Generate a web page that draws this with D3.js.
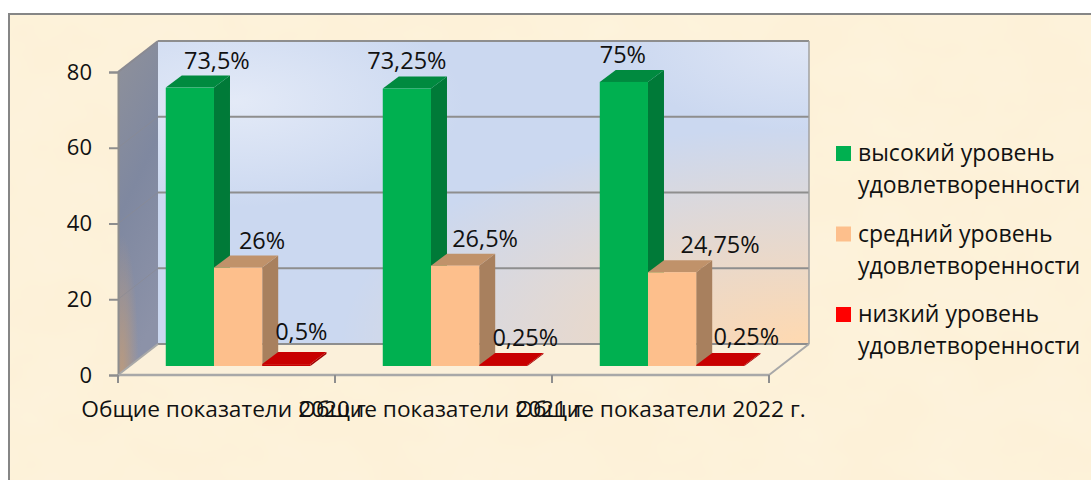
<!DOCTYPE html>
<html>
<head>
<meta charset="utf-8">
<script src="https://cdn.jsdelivr.net/npm/d3@7"></script>
<style>
  html, body { margin: 0; padding: 0; background: #fff; overflow: hidden; }
  svg { display: block; }
  text { font-family: "Open Sans", "Noto Sans", sans-serif; fill: #111; }
</style>
</head>
<body>
<script>
// values
var categories = ["Общие показатели 2020 г.", "Общие показатели 2021 г.", "Общие показатели 2022 г."];
var seriesNames = ["высокий", "средний", "низкий"];
var high = [73.5, 73.25, 75];
var mid = [26, 26.5, 24.75];
var low = [0.5, 0.25, 0.25];
var labelsHigh = ["73,5%", "73,25%", "75%"];
var labelsMid = ["26%", "26,5%", "24,75%"];
var labelsLow = ["0,5%", "0,25%", "0,25%"];
var yTicks = [0, 20, 40, 60, 80];
var legendLines = [
  ["высокий уровень", "удовлетворенности"],
  ["средний уровень", "удовлетворенности"],
  ["низкий уровень", "удовлетворенности"]
];

var width = 1091, height = 480;
var frontColors = ["#00b050", "#fdbf8c", "#c80000"];
var topColors = ["#008a3f", "#c0926a", "#c80000"];
var sideColors = ["#007a38", "#a8805e", "#a00000"];
var legendColors = ["#00b050", "#fdbf8c", "#ff0000"];

// data labels were dragged by hand in the original, per series then per category
var labelDx = [[27, 0, -1], [24, 30, 48], [15, 22, 26]];
var labelDy = [[-19, -20, -19], [-19, -19, -19], [-24, -19, -20]];

var svg = d3.select("body").append("svg")
    .attr("width", width)
    .attr("height", height);

var defs = svg.append("defs");

// parchment texture
var paper = defs.append("filter").attr("id", "paper")
    .attr("x", 0).attr("y", 0).attr("width", "100%").attr("height", "100%");
paper.append("feTurbulence").attr("type", "fractalNoise")
    .attr("baseFrequency", "0.012 0.018").attr("numOctaves", 3).attr("seed", 7);
paper.append("feColorMatrix").attr("type", "matrix")
    .attr("values", "0 0 0 0 0.98  0 0 0 0 0.92  0 0 0 0 0.76  0.7 0 0 0 -0.22");

function radial(id, cx, cy, r, color, op) {
  var g = defs.append("radialGradient").attr("id", id)
      .attr("cx", cx).attr("cy", cy).attr("r", r);
  g.append("stop").attr("offset", 0).attr("stop-color", color).attr("stop-opacity", op);
  g.append("stop").attr("offset", 1).attr("stop-color", color).attr("stop-opacity", 0);
}
radial("wallPeach", 1, 1, 0.72, "#ffd9b0", 1);
radial("wallLight1", 0.12, 0.2, 0.35, "#e6ecf8", 0.9);
radial("wallLight2", 1, 0, 0.3, "#e2e8f6", 0.9);
radial("sideBrown", 0.1, 1, 0.42, "#b89a80", 1);

var side = defs.append("linearGradient").attr("id", "side")
    .attr("x1", 0).attr("y1", 0).attr("x2", 0.25).attr("y2", 1);
side.append("stop").attr("offset", "0").attr("stop-color", "#8f919a");
side.append("stop").attr("offset", "0.5").attr("stop-color", "#7f88a0");
side.append("stop").attr("offset", "1").attr("stop-color", "#8c92a8");

svg.append("rect").attr("x", 9).attr("y", 14).attr("width", width - 9).attr("height", height - 14).attr("fill", "#fdf1d8");
svg.append("rect").attr("x", 9).attr("y", 14).attr("width", width - 9).attr("height", height - 14).attr("filter", "url(#paper)");

// frame only shows on the top and the left
svg.append("path")
    .attr("d", "M9," + height + "V14H" + width)
    .attr("fill", "none").attr("stroke", "#868686").attr("stroke-width", 2);

// front plane scales and the shift to the back wall
var x0 = d3.scaleBand().domain(categories).range([118, 769]);
var y = d3.scaleLinear().domain([0, 80]).range([375, 72]);
var depth = { x: 40, y: -31 };
var barDepth = { x: 16, y: -12 };
var barShift = { x: 11.6, y: -9 };
var x1 = d3.scaleBand().domain(seriesNames).range([0, x0.bandwidth()]).paddingOuter(0.75);

function poly(pts) { return pts.map(function(p) { return p.join(","); }).join(" "); }

var xL = x0.range()[0], xR = x0.range()[1];
var gridColor = "#8e8e8e";

// floor
svg.append("polygon")
    .attr("points", poly([[xL, y(0)], [xL + depth.x, y(0) + depth.y], [xR + depth.x, y(0) + depth.y], [xR, y(0)]]))
    .attr("fill", "#fbf0da");

// back wall, layered blue with a peach corner
var wallPts = poly([[xL + depth.x, y(80) + depth.y], [xR + depth.x, y(80) + depth.y], [xR + depth.x, y(0) + depth.y], [xL + depth.x, y(0) + depth.y]]);
["#cbd8f0", "url(#wallLight1)", "url(#wallLight2)", "url(#wallPeach)"].forEach(function(f) {
  svg.append("polygon").attr("points", wallPts).attr("fill", f);
});

// side wall
var sidePts = poly([[xL, y(80)], [xL + depth.x, y(80) + depth.y], [xL + depth.x, y(0) + depth.y], [xL, y(0)]]);
["url(#side)", "url(#sideBrown)"].forEach(function(f) {
  svg.append("polygon").attr("points", sidePts).attr("fill", f);
});

// gridlines on the wall, running on down the side wall
yTicks.forEach(function(t) {
  svg.append("line")
      .attr("x1", xL + depth.x).attr("x2", xR + depth.x)
      .attr("y1", y(t) + depth.y).attr("y2", y(t) + depth.y)
      .attr("stroke", gridColor).attr("stroke-width", 2);
  svg.append("line")
      .attr("x1", xL).attr("x2", xL + depth.x)
      .attr("y1", y(t)).attr("y2", y(t) + depth.y)
      .attr("stroke", t === 0 ? "#a8a8a8" : "#8a8a92").attr("stroke-width", t === 0 || t === 80 ? 2 : 1)
      .attr("opacity", t === 0 || t === 80 ? 1 : 0.6);
});
// wall edges
svg.append("line")
    .attr("x1", xR + depth.x).attr("x2", xR + depth.x)
    .attr("y1", y(80) + depth.y).attr("y2", y(0) + depth.y)
    .attr("stroke", "#a0a0a0").attr("stroke-width", 1.5);
svg.append("line")
    .attr("x1", xR).attr("x2", xR + depth.x)
    .attr("y1", y(0)).attr("y2", y(0) + depth.y)
    .attr("stroke", "#a8a8a8").attr("stroke-width", 2);

// axes
var yAxis = d3.axisLeft(y).tickValues(yTicks).tickSize(9).tickPadding(17);
var gy = svg.append("g")
    .attr("transform", "translate(" + xL + ",0)")
    .call(yAxis);
gy.select(".domain").attr("stroke", "#8e8e8e").attr("stroke-width", 2);
gy.selectAll(".tick line").attr("stroke", "#8e8e8e").attr("stroke-width", 2);
gy.selectAll("text").style("font-size", "22px").style("font-family", '"Open Sans", sans-serif').attr("fill", "#111");

var boundaries = categories.map(function(c) { return x0(c); }).concat([xR]);
var gx = svg.append("g").attr("transform", "translate(0," + y(0) + ")");
gx.append("line").attr("x1", xL).attr("x2", xR)
    .attr("stroke", "#a8a8a8").attr("stroke-width", 2.5);
gx.selectAll(".xtick").data(boundaries).enter().append("line")
    .attr("class", "xtick")
    .attr("x1", function(d) { return d; }).attr("x2", function(d) { return d; })
    .attr("y1", 0).attr("y2", 8)
    .attr("stroke", "#8e8e8e").attr("stroke-width", 2);
gx.selectAll(".xlabel").data(categories).enter().append("text")
    .attr("class", "xlabel")
    .attr("x", function(d) { return x0(d) + x0.bandwidth() / 2; })
    .attr("y", 42)
    .attr("text-anchor", "middle")
    .style("font-size", "22.7px")
    .text(function(d) { return d; });

// bars, left one first so the next front face covers its side
var table = [];
categories.forEach(function(c, i) {
  table.push({ cat: c, i: i, s: seriesNames[0], v: high[i], label: labelsHigh[i], k: 0 });
  table.push({ cat: c, i: i, s: seriesNames[1], v: mid[i], label: labelsMid[i], k: 1 });
  table.push({ cat: c, i: i, s: seriesNames[2], v: low[i], label: labelsLow[i], k: 2 });
});

var bars = svg.selectAll(".bar").data(table).enter().append("g").attr("class", "bar");

function bx(d) { return x0(d.cat) + x1(d.s) + barShift.x; }
function by(v) { return y(v) + barShift.y; }

bars.append("polygon")
    .attr("fill", function(d) { return sideColors[d.k]; })
    .attr("points", function(d) {
      var r = bx(d) + x1.bandwidth();
      return poly([[r, by(d.v)], [r + barDepth.x, by(d.v) + barDepth.y], [r + barDepth.x, by(0) + barDepth.y], [r, by(0)]]);
    });
bars.append("polygon")
    .attr("fill", function(d) { return topColors[d.k]; })
    .attr("points", function(d) {
      var l = bx(d), r = l + x1.bandwidth(), t = by(d.v);
      return poly([[l, t], [l + barDepth.x, t + barDepth.y], [r + barDepth.x, t + barDepth.y], [r, t]]);
    });
bars.append("rect")
    .attr("fill", function(d) { return frontColors[d.k]; })
    .attr("x", bx)
    .attr("y", function(d) { return by(d.v); })
    .attr("width", x1.bandwidth())
    .attr("height", function(d) { return by(0) - by(d.v); });

// data labels
svg.selectAll(".value").data(table).enter().append("text")
    .attr("class", "value")
    .attr("x", function(d) { return bx(d) + x1.bandwidth() / 2 + labelDx[d.k][d.i]; })
    .attr("y", function(d) { return by(d.v) + labelDy[d.k][d.i]; })
    .attr("text-anchor", "middle")
    .style("font-size", "23.5px")
    .text(function(d) { return d.label; });

// legend
var legendY = d3.scalePoint().domain(d3.range(legendLines.length)).range([161, 322]);
var legend = svg.selectAll(".legend").data(legendLines).enter().append("g")
    .attr("class", "legend")
    .attr("transform", function(d, i) { return "translate(836," + legendY(i) + ")"; });
legend.append("rect")
    .attr("x", 0).attr("y", -15)
    .attr("width", 15).attr("height", 15)
    .attr("fill", function(d, i) { return legendColors[i]; });
legend.each(function(lines) {
  d3.select(this).selectAll("text").data(lines).enter().append("text")
      .attr("x", 22)
      .attr("y", function(d, i) { return i * 32; })
      .style("font-size", "23px")
      .text(function(d) { return d; });
});
</script>
</body>
</html>
